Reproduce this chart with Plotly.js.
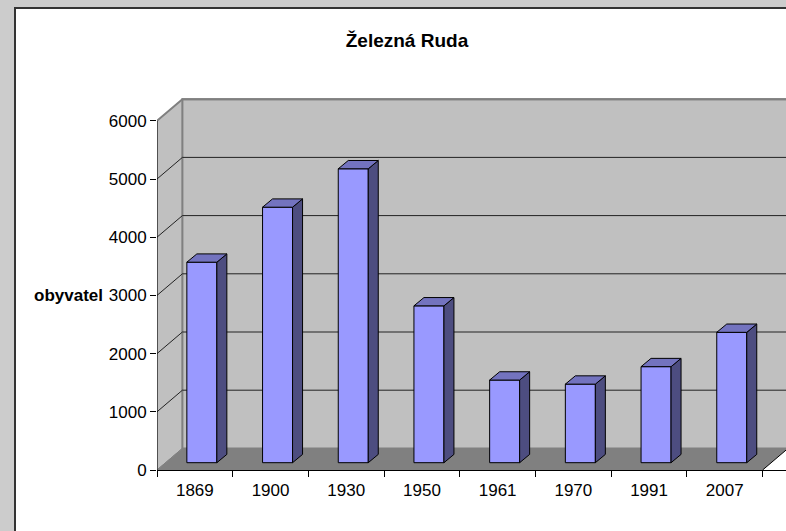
<!DOCTYPE html>
<html>
<head>
<meta charset="utf-8">
<script src="https://cdn.plot.ly/plotly-3.0.1.min.js"></script>
<style>html,body{margin:0;padding:0;background:#CCCCCC;}#chart{width:786px;height:531px;}</style>
</head>
<body>
<div id="chart"></div>
<script>
// ---- data ----
const categories = ['1869', '1900', '1930', '1950', '1961', '1970', '1991', '2007'];
const population = [3445, 4390, 5050, 2695, 1420, 1350, 1650, 2240];
const yTickValues = [0, 1000, 2000, 3000, 4000, 5000, 6000];
const chartTitle = 'Železná Ruda';
const yLabel = 'obyvatel';

// ---- geometry (style) ----
const W = 786, H = 531;
const L = 157, R = 0, T = 85, B = 61;
const pxPerCat = 75.7, pxPerUnit = 0.0582;
const xMax = (W - L - R) / pxPerCat;
const yMax = (H - T - B) / pxPerUnit;
const n = categories.length;
const yTop = yTickValues[yTickValues.length - 1];
const wallDx = 25.4 / pxPerCat, wallDy = 21.6 / pxPerUnit;   // depth of the floor
const barSx = 7 / pxPerCat, barSy = 7.3 / pxPerUnit;          // bar plane offset
const barW = 30 / pxPerCat;
const barDx = 10 / pxPerCat, barDy = 8.3 / pxPerUnit;         // bar depth

const pth = pts => 'M' + pts.map(p => p[0] + ',' + p[1]).join(' L') + ' Z';
const pthOpen = pts => 'M' + pts.map(p => p[0] + ',' + p[1]).join(' L');
const ppx = px => (px - L) / (W - L - R);
const ppy = py => (H - B - py) / (H - T - B);

const shapes = [];
// chart area frame
shapes.push({type: 'rect', xref: 'paper', yref: 'paper', layer: 'below',
  x0: ppx(15), x1: ppx(W + 20), y0: ppy(H + 20), y1: ppy(8),
  fillcolor: '#FFFFFF', line: {color: '#333333', width: 2}});
const xFar = n + wallDx + 1;
// side wall
shapes.push({type: 'path', xref: 'x', yref: 'y', layer: 'below',
  path: pth([[0, 0], [wallDx, wallDy], [wallDx, yTop + wallDy], [0, yTop]]),
  fillcolor: '#C0C0C0', line: {color: '#808080', width: 1}});
// back wall
shapes.push({type: 'path', xref: 'x', yref: 'y', layer: 'below',
  path: pth([[wallDx, wallDy], [xFar, wallDy], [xFar, yTop + wallDy], [wallDx, yTop + wallDy]]),
  fillcolor: '#C0C0C0', line: {color: '#808080', width: 2}});
// floor
shapes.push({type: 'path', xref: 'x', yref: 'y', layer: 'below',
  path: pth([[0, 0], [n, 0], [n + wallDx, wallDy], [wallDx, wallDy]]),
  fillcolor: '#808080', line: {width: 0}});
// floor right edge
shapes.push({type: 'path', xref: 'x', yref: 'y', layer: 'below',
  path: pthOpen([[n, 0], [n + wallDx, wallDy]]),
  line: {color: '#000000', width: 1}});
// floor-left diagonal
shapes.push({type: 'path', xref: 'x', yref: 'y', layer: 'below',
  path: pthOpen([[0, 0], [wallDx, wallDy]]),
  line: {color: '#808080', width: 1}});
// gridlines
yTickValues.slice(1, -1).forEach(v => {
  shapes.push({type: 'path', xref: 'x', yref: 'y', layer: 'below',
    path: pthOpen([[0, v], [wallDx, v + wallDy], [xFar, v + wallDy]]),
    line: {color: '#222222', width: 1}});
});
// top edge
shapes.push({type: 'path', xref: 'x', yref: 'y', layer: 'below',
  path: pthOpen([[0, yTop], [wallDx, yTop + wallDy], [xFar, yTop + wallDy]]),
  line: {color: '#808080', width: 2}});
// front value axis line (0 .. top tick)
shapes.push({type: 'path', xref: 'x', yref: 'y', layer: 'above',
  path: pthOpen([[0, 0], [0, yTop]]),
  line: {color: '#000000', width: 1}});

const traces = [];
// bar side & top faces
population.forEach((v, i) => {
  const x0 = i + 0.5 + barSx - barW / 2, x1 = i + 0.5 + barSx + barW / 2;
  const y0 = barSy, y1 = barSy + v;
  traces.push({type: 'scatter', mode: 'lines', fill: 'toself', hoverinfo: 'skip', showlegend: false,
    x: [x1, x1 + barDx, x1 + barDx, x1, x1], y: [y0, y0 + barDy, y1 + barDy, y1, y0],
    fillcolor: '#4D4D80', line: {color: '#000000', width: 1}});
  traces.push({type: 'scatter', mode: 'lines', fill: 'toself', hoverinfo: 'skip', showlegend: false,
    x: [x0, x1, x1 + barDx, x0 + barDx, x0], y: [y1, y1, y1 + barDy, y1 + barDy, y1],
    fillcolor: '#7373BF', line: {color: '#000000', width: 1}});
});
// bar front faces
traces.push({type: 'bar', showlegend: false, hoverinfo: 'skip',
  x: categories.map((c, i) => i + 0.5 + barSx), y: population,
  base: population.map(() => barSy), width: barW,
  marker: {color: '#9999FF', line: {color: '#000000', width: 1}}});

const font = 'Liberation Sans, Arial, sans-serif';
const layout = {
  width: W, height: H,
  margin: {l: L, r: R, t: T, b: B},
  paper_bgcolor: '#CCCCCC', plot_bgcolor: 'rgba(0,0,0,0)',
  font: {family: font, size: 17, color: '#000000'},
  showlegend: false,
  title: {text: chartTitle, x: 407 / W, xanchor: 'center', y: 1 - 40 / H, yanchor: 'middle',
    font: {family: font, size: 19, weight: 'bold', color: '#000000'}},
  xaxis: {range: [0, xMax], showgrid: false, zeroline: false, fixedrange: true,
    tickmode: 'array', tickvals: categories.map((c, i) => i + 0.5), ticktext: categories,
    ticks: '', ticklabelstandoff: 5, showline: true, linecolor: '#000000', linewidth: 1,
    minor: {tickmode: 'array', tickvals: categories.map((c, i) => i).concat([n]), ticks: 'outside', ticklen: 6, tickcolor: '#000000', showgrid: false},
    tickfont: {family: font, size: 17}},
  yaxis: {range: [0, yMax], showgrid: false, zeroline: false, fixedrange: true,
    tickmode: 'array', tickvals: yTickValues, ticktext: yTickValues.map(String),
    ticks: 'outside', ticklen: 6, tickcolor: '#000000',
    showline: false,
    tickfont: {family: font, size: 17}},
  shapes: shapes,
  annotations: [{text: yLabel, xref: 'paper', yref: 'y', x: ppx(68), y: 3000,
    xanchor: 'center', yanchor: 'middle', showarrow: false,
    font: {family: font, size: 17, weight: 'bold', color: '#000000'}}]
};
Plotly.newPlot('chart', traces, layout, {displayModeBar: false, staticPlot: true});
</script>
</body>
</html>
